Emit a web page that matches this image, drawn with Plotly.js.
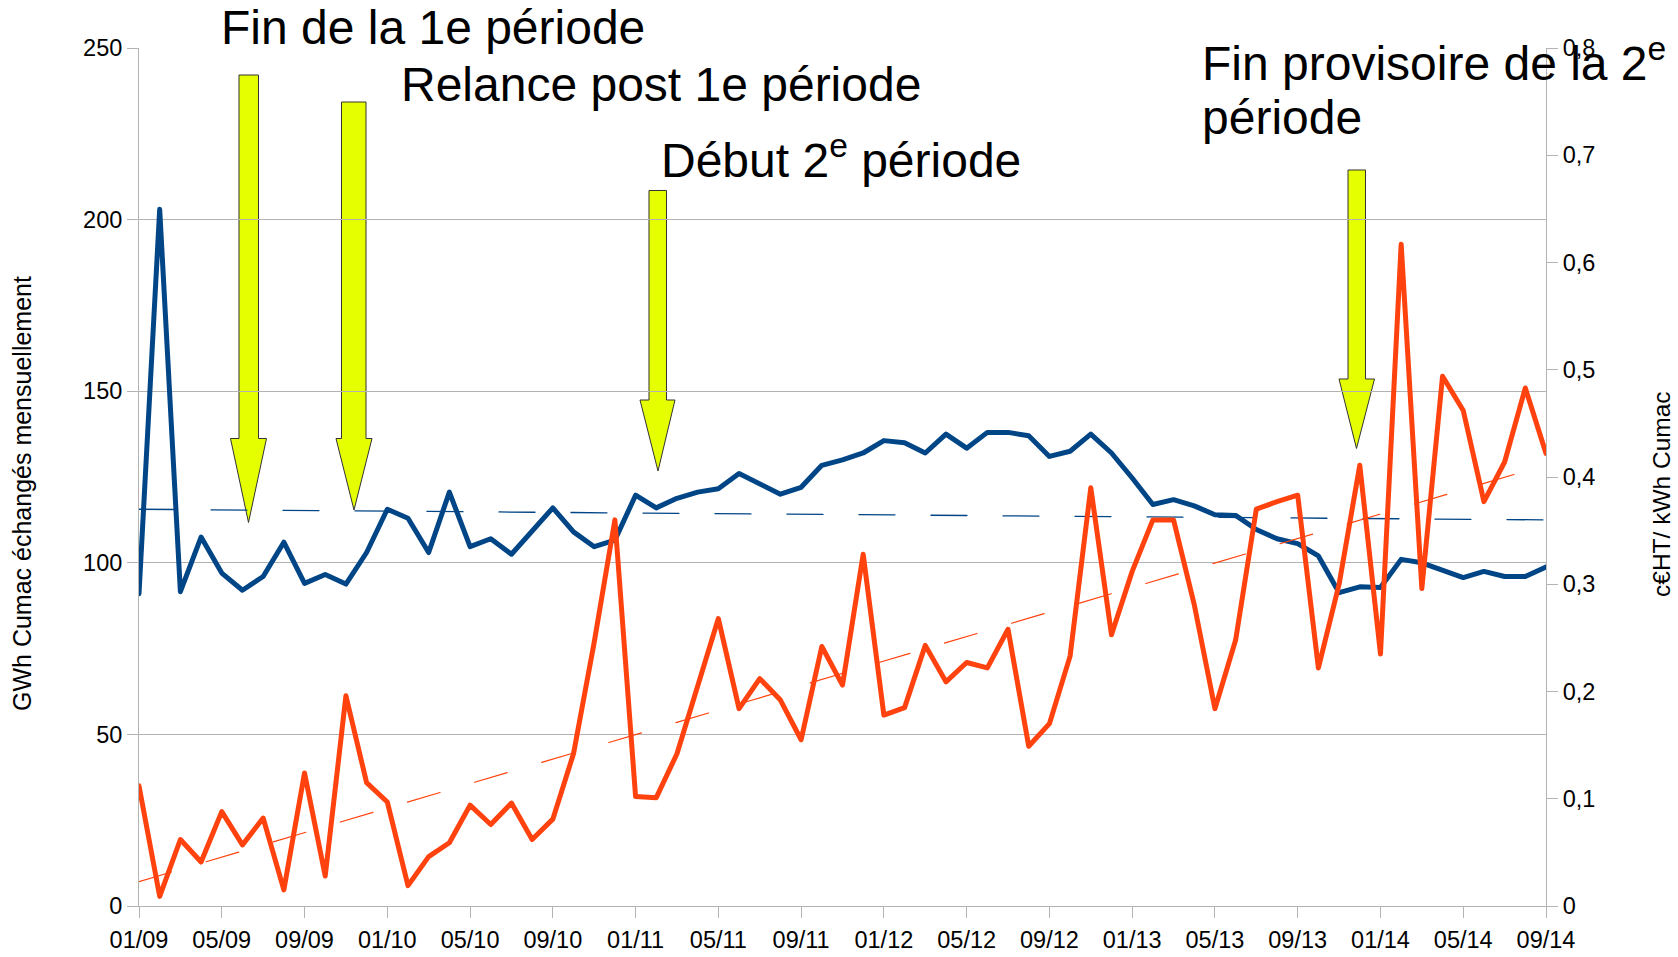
<!DOCTYPE html>
<html>
<head>
<meta charset="utf-8">
<script src="https://cdn.plot.ly/plotly-3.0.1.min.js"></script>
<style>
html,body{margin:0;padding:0;background:#fff;}
#chart{width:1678px;height:957px;}
.scatterlayer .js-line{stroke-linejoin:round;stroke-linecap:round;}
</style>
</head>
<body>
<div id="chart"></div>
<script>
// ---- Data ----
const months = [
  '01/09','02/09','03/09','04/09','05/09','06/09','07/09','08/09','09/09','10/09','11/09','12/09',
  '01/10','02/10','03/10','04/10','05/10','06/10','07/10','08/10','09/10','10/10','11/10','12/10',
  '01/11','02/11','03/11','04/11','05/11','06/11','07/11','08/11','09/11','10/11','11/11','12/11',
  '01/12','02/12','03/12','04/12','05/12','06/12','07/12','08/12','09/12','10/12','11/12','12/12',
  '01/13','02/13','03/13','04/13','05/13','06/13','07/13','08/13','09/13','10/13','11/13','12/13',
  '01/14','02/14','03/14','04/14','05/14','06/14','07/14','08/14','09/14'
];
// GWh Cumac échangés mensuellement (left axis)
const gwhMensuel = [
  91, 203, 91.6, 107.5, 97, 92, 96, 106, 94, 96.6, 93.8, 103,
  115.6, 113, 103, 120.6, 104.7, 107, 102.5, 109, 116, 109, 104.7, 106.6,
  119.7, 116, 118.8, 120.6, 121.6, 126, 123, 120, 122, 128.4, 130, 132,
  135.6, 135, 132, 137.5, 133.4, 138, 138, 137, 131, 132.5, 137.5, 132,
  124.7, 117, 118.4, 116.6, 114, 113.8, 109.7, 107, 105.6, 102, 91.3, 93,
  92.8, 101, 100, 98, 95.7, 97.5, 96, 96, 98.8
];
// c€HT / kWh Cumac (right axis)
const prixCumac = [
  0.112, 0.009, 0.062, 0.041, 0.088, 0.057, 0.082, 0.015, 0.124, 0.028, 0.196, 0.115,
  0.097, 0.019, 0.046, 0.059, 0.094, 0.076, 0.096, 0.062, 0.081, 0.142, 0.246, 0.360,
  0.102, 0.101, 0.142, 0.206, 0.268, 0.184, 0.212, 0.192, 0.155, 0.242, 0.206, 0.328,
  0.178, 0.185, 0.243, 0.209, 0.227, 0.222, 0.258, 0.149, 0.170, 0.233, 0.390, 0.253,
  0.312, 0.360, 0.360, 0.281, 0.184, 0.248, 0.370, 0.377, 0.383, 0.222, 0.300, 0.411,
  0.235, 0.617, 0.296, 0.494, 0.462, 0.377, 0.414, 0.483, 0.422
];
const xTickLabels = ['01/09','05/09','09/09','01/10','05/10','09/10','01/11','05/11','09/11',
  '01/12','05/12','09/12','01/13','05/13','09/13','01/14','05/14','09/14'];
const annotationTexts = ['Fin de la 1e période', 'Relance post 1e période', 'Début 2<sup>e</sup> période',
  'Fin provisoire de la 2<sup>e</sup>', 'période'];
const leftTitle = 'GWh Cumac échangés mensuellement';
const rightTitle = 'c€HT/ kWh Cumac';

// ---- Linear trend lines (least squares over the month index, like the original chart) ----
function linFit(vals) {
  const n = vals.length;
  let sx = 0, sy = 0, sxx = 0, sxy = 0;
  vals.forEach((v, i) => { sx += i; sy += v; sxx += i * i; sxy += i * v; });
  const b = (n * sxy - sx * sy) / (n * sxx - sx * sx);
  const a = (sy - b * sx) / n;
  return [a, a + b * (n - 1)];
}
const trendGwh = linFit(gwhMensuel);
const trendPrix = linFit(prixCumac);
const trendX = [months[0], months[months.length - 1]];

// ---- Layout geometry ----
const W = 1678, H = 957;
const M = {l: 139, r: 132, t: 48, b: 51};
const PW = W - M.l - M.r, PH = H - M.t - M.b;
const px = x => (x - M.l) / PW;
const py = y => (H - M.b - y) / PH;

const FONT = 'Liberation Sans, Arial, sans-serif';
const BLUE = '#004586', ORANGE = '#ff420e', GRID = '#b3b3b3';

const traces = [
  {x: months, y: gwhMensuel, type: 'scatter', mode: 'lines', yaxis: 'y',
   line: {color: BLUE, width: 5}},
  {x: months, y: prixCumac, type: 'scatter', mode: 'lines', yaxis: 'y2',
   line: {color: ORANGE, width: 5}},
  {x: trendX, y: trendGwh, type: 'scatter', mode: 'lines', yaxis: 'y',
   line: {color: BLUE, width: 1.3, dash: '36px,36px'}, hoverinfo: 'skip'},
  {x: trendX, y: trendPrix, type: 'scatter', mode: 'lines', yaxis: 'y2',
   line: {color: ORANGE, width: 1.2, dash: '34px,36px'}, hoverinfo: 'skip'}
];

// Block arrows: [shaftLeft, shaftRight, top, headY, headLeft, headRight, tipX, tipY] in px
const arrows = [
  [239, 258.5, 75, 438.5, 230.5, 266.5, 248.5, 522.5],
  [341.5, 366, 102, 438.5, 336, 372, 354, 510],
  [649, 666.5, 190.5, 400, 640, 675, 658, 471],
  [1348, 1365.5, 170, 379, 1339, 1374.5, 1356.5, 448.5]
];
const shapes = arrows.map(a => {
  const [sl, sr, top, hy, hl, hr, tx, ty] = a;
  const P = (x, y) => px(x).toFixed(5) + ',' + py(y).toFixed(5);
  return {
    type: 'path', xref: 'paper', yref: 'paper', layer: 'between',
    path: 'M' + P(sl, top) + ' L' + P(sr, top) + ' L' + P(sr, hy) + ' L' + P(hr, hy) +
          ' L' + P(tx, ty) + ' L' + P(hl, hy) + ' L' + P(sl, hy) + ' Z',
    fillcolor: '#e6ff00', line: {color: '#333333', width: 1}
  };
});

// Text annotation anchors (left x, vertical centre y) in px
const annPos = [[219, 28], [399, 84], [659, 157], [1200, 60], [1200, 117]];
const annotations = annotationTexts.map((t, i) => ({
  text: t, xref: 'paper', yref: 'paper', x: px(annPos[i][0]), y: py(annPos[i][1]),
  xanchor: 'left', yanchor: 'middle', showarrow: false,
  font: {family: FONT, size: 48, color: '#000'}
}));
// Axis titles as rotated annotations (centre x, centre y in px)
annotations.push({
  text: leftTitle, xref: 'paper', yref: 'paper', x: px(22), y: py(494),
  xanchor: 'center', yanchor: 'middle', textangle: -90, showarrow: false,
  font: {family: FONT, size: 25, color: '#000'}
});
annotations.push({
  text: rightTitle, xref: 'paper', yref: 'paper', x: px(1661), y: py(494),
  xanchor: 'center', yanchor: 'middle', textangle: -90, showarrow: false,
  font: {family: FONT, size: 24.5, color: '#000'}
});

const layout = {
  width: W, height: H, margin: M, showlegend: false,
  paper_bgcolor: '#fff', plot_bgcolor: '#fff',
  separators: ', ',
  font: {family: FONT, color: '#000'},
  xaxis: {
    type: 'category', categoryorder: 'array', categoryarray: months,
    range: [0, months.length - 1],
    tickmode: 'array', tickvals: xTickLabels, ticktext: xTickLabels,
    showgrid: false, zeroline: false, showline: true, linecolor: GRID, linewidth: 1,
    ticks: 'outside', ticklen: 11, tickcolor: GRID, tickwidth: 1,
    tickfont: {family: FONT, size: 23.5, color: '#000'}, ticklabelstandoff: 2,
    tickangle: 0, automargin: false
  },
  yaxis: {
    range: [0, 250], dtick: 50, tick0: 0,
    showgrid: true, gridcolor: GRID, gridwidth: 1, zeroline: false,
    showline: true, linecolor: GRID, linewidth: 1,
    ticks: 'outside', ticklen: 11, tickcolor: GRID,
    tickfont: {family: FONT, size: 23.5, color: '#000'},
    automargin: false
  },
  yaxis2: {
    range: [0, 0.8], dtick: 0.1, tick0: 0, overlaying: 'y', side: 'right',
    showgrid: false, zeroline: false, showline: true, linecolor: GRID, linewidth: 1,
    ticks: 'outside', ticklen: 11, tickcolor: GRID,
    tickfont: {family: FONT, size: 23.5, color: '#000'},
    automargin: false
  },
  shapes: shapes,
  annotations: annotations
};

Plotly.newPlot('chart', traces, layout, {displayModeBar: false, staticPlot: true});
</script>
</body>
</html>
